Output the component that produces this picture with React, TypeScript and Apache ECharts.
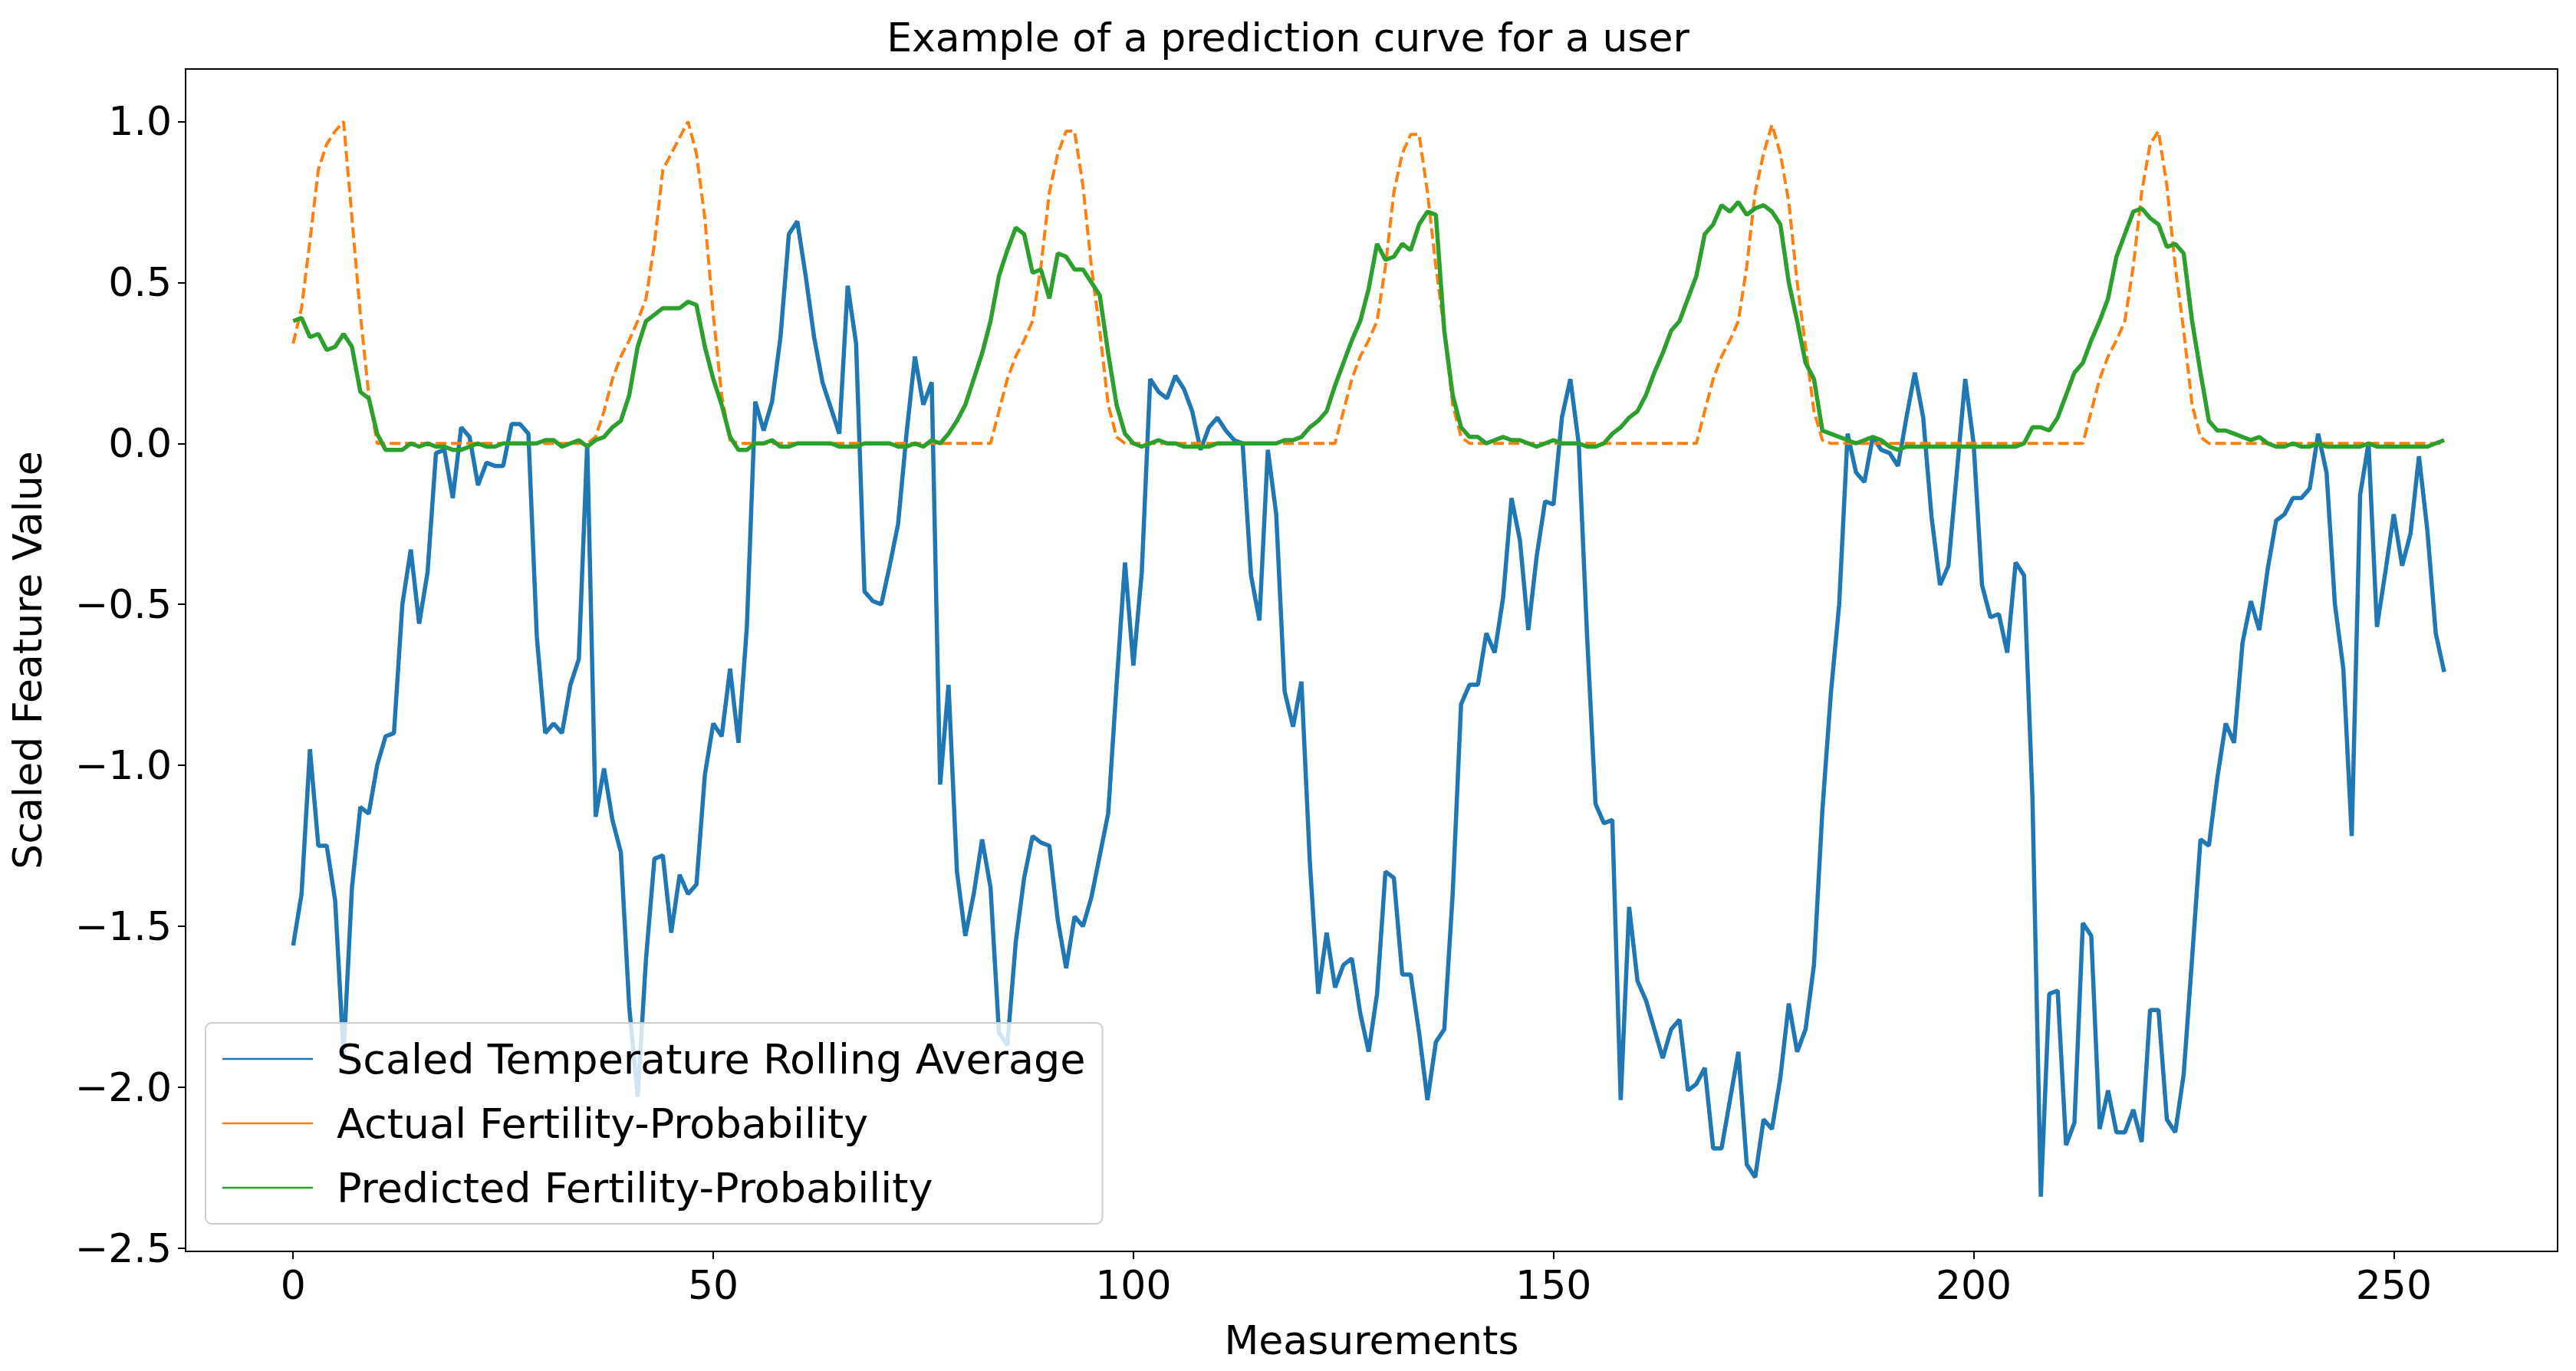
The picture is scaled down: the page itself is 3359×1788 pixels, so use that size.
import { useEffect, useRef } from 'react';
import * as echarts from 'echarts';

const temperature = [
  -1.56, -1.40, -0.95, -1.25, -1.25, -1.42, -1.90, -1.38, -1.13, -1.15,
  -1.00, -0.91, -0.90, -0.50, -0.33, -0.56, -0.40, -0.03, -0.02, -0.17,
  0.05, 0.02, -0.13, -0.06, -0.07, -0.07, 0.06, 0.06, 0.03, -0.60,
  -0.90, -0.87, -0.90, -0.75, -0.67, 0.00, -1.16, -1.01, -1.17, -1.27,
  -1.75, -2.03, -1.60, -1.29, -1.28, -1.52, -1.34, -1.40, -1.37, -1.03,
  -0.87, -0.91, -0.70, -0.93, -0.57, 0.13, 0.04, 0.13, 0.33, 0.65,
  0.69, 0.52, 0.33, 0.19, 0.11, 0.03, 0.49, 0.31, -0.46, -0.49,
  -0.50, -0.38, -0.25, 0.03, 0.27, 0.12, 0.19, -1.06, -0.75, -1.33,
  -1.53, -1.40, -1.23, -1.38, -1.83, -1.87, -1.55, -1.35, -1.22, -1.24,
  -1.25, -1.48, -1.63, -1.47, -1.50, -1.41, -1.28, -1.15, -0.75, -0.37,
  -0.69, -0.40, 0.20, 0.16, 0.14, 0.21, 0.17, 0.10, -0.02, 0.05,
  0.08, 0.04, 0.01, 0.00, -0.41, -0.55, -0.02, -0.22, -0.77, -0.88,
  -0.74, -1.30, -1.71, -1.52, -1.69, -1.62, -1.60, -1.77, -1.89, -1.71,
  -1.33, -1.35, -1.65, -1.65, -1.83, -2.04, -1.86, -1.82, -1.40, -0.81,
  -0.75, -0.75, -0.59, -0.65, -0.48, -0.17, -0.30, -0.58, -0.35, -0.18,
  -0.19, 0.08, 0.20, 0.00, -0.60, -1.12, -1.18, -1.17, -2.04, -1.44,
  -1.67, -1.73, -1.82, -1.91, -1.82, -1.79, -2.01, -1.99, -1.94, -2.19,
  -2.19, -2.04, -1.89, -2.24, -2.28, -2.10, -2.13, -1.97, -1.74, -1.89,
  -1.82, -1.62, -1.14, -0.78, -0.50, 0.03, -0.09, -0.12, 0.02, -0.02,
  -0.03, -0.07, 0.08, 0.22, 0.08, -0.23, -0.44, -0.38, -0.09, 0.20,
  0.00, -0.44, -0.54, -0.53, -0.65, -0.37, -0.41, -1.10, -2.34, -1.71,
  -1.70, -2.18, -2.11, -1.49, -1.53, -2.13, -2.01, -2.14, -2.14, -2.07,
  -2.17, -1.76, -1.76, -2.10, -2.14, -1.96, -1.60, -1.23, -1.25, -1.04,
  -0.87, -0.93, -0.62, -0.49, -0.58, -0.39, -0.24, -0.22, -0.17, -0.17,
  -0.14, 0.03, -0.09, -0.50, -0.70, -1.22, -0.16, 0.00, -0.57, -0.40,
  -0.22, -0.38, -0.28, -0.04, -0.27, -0.59, -0.71,
];

const actual = [
  0.31, 0.42, 0.63, 0.85, 0.93, 0.97, 1.00, 0.70, 0.40, 0.15,
  0.00, 0, 0, 0, 0, 0, 0, 0, 0, 0,
  0, 0, 0, 0, 0, 0, 0, 0, 0, 0,
  0, 0, 0, 0, 0, 0, 0.02, 0.10, 0.20, 0.27,
  0.32, 0.38, 0.45, 0.62, 0.85, 0.90, 0.95, 1.00, 0.90, 0.70,
  0.40, 0.15, 0.01, 0, 0, 0, 0, 0, 0, 0,
  0, 0, 0, 0, 0, 0, 0, 0, 0, 0,
  0, 0, 0, 0, 0, 0, 0, 0, 0, 0,
  0, 0, 0, 0, 0.10, 0.20, 0.27, 0.32, 0.38, 0.55,
  0.78, 0.90, 0.97, 0.97, 0.80, 0.55, 0.35, 0.12, 0.02, 0,
  0, 0, 0, 0, 0, 0, 0, 0, 0, 0,
  0, 0, 0, 0, 0, 0, 0, 0, 0, 0,
  0, 0, 0, 0, 0, 0.10, 0.20, 0.27, 0.32, 0.38,
  0.55, 0.78, 0.90, 0.96, 0.96, 0.78, 0.55, 0.35, 0.12, 0.02,
  0, 0, 0, 0, 0, 0, 0, 0, 0, 0,
  0, 0, 0, 0, 0, 0, 0, 0, 0, 0,
  0, 0, 0, 0, 0, 0, 0, 0, 0.10, 0.20,
  0.27, 0.32, 0.38, 0.55, 0.78, 0.90, 0.99, 0.90, 0.75, 0.50,
  0.30, 0.10, 0.01, 0, 0, 0, 0, 0, 0, 0,
  0, 0, 0, 0, 0, 0, 0, 0, 0, 0,
  0, 0, 0, 0, 0, 0, 0, 0, 0, 0,
  0, 0, 0, 0, 0.10, 0.20, 0.27, 0.32, 0.38, 0.55,
  0.78, 0.93, 0.97, 0.80, 0.55, 0.35, 0.12, 0.02, 0, 0,
  0, 0, 0, 0, 0, 0, 0, 0, 0, 0,
  0, 0, 0, 0, 0, 0, 0, 0, 0, 0,
  0, 0, 0, 0, 0, 0, 0,
];

const predicted = [
  0.38, 0.39, 0.33, 0.34, 0.29, 0.30, 0.34, 0.30, 0.16, 0.14,
  0.03, -0.02, -0.02, -0.02, 0.00, -0.01, 0.00, -0.01, -0.01, -0.02,
  -0.02, -0.01, 0.00, -0.01, -0.01, 0.00, 0.00, 0.00, 0.00, 0.00,
  0.01, 0.01, -0.01, 0.00, 0.01, -0.01, 0.01, 0.02, 0.05, 0.07,
  0.15, 0.30, 0.38, 0.40, 0.42, 0.42, 0.42, 0.44, 0.43, 0.30,
  0.20, 0.12, 0.02, -0.02, -0.02, 0.00, 0.00, 0.01, -0.01, -0.01,
  0.00, 0.00, 0.00, 0.00, 0.00, -0.01, -0.01, -0.01, 0.00, 0.00,
  0.00, 0.00, -0.01, -0.01, 0.00, -0.01, 0.01, 0.00, 0.03, 0.07,
  0.12, 0.20, 0.28, 0.38, 0.52, 0.60, 0.67, 0.65, 0.53, 0.54,
  0.45, 0.59, 0.58, 0.54, 0.54, 0.50, 0.46, 0.28, 0.12, 0.03,
  0.00, -0.01, 0.00, 0.01, 0.00, 0.00, -0.01, -0.01, -0.01, -0.01,
  0.00, 0.00, 0.00, 0.00, 0.00, 0.00, 0.00, 0.00, 0.01, 0.01,
  0.02, 0.05, 0.07, 0.10, 0.18, 0.25, 0.32, 0.38, 0.48, 0.62,
  0.57, 0.58, 0.62, 0.60, 0.68, 0.72, 0.71, 0.35, 0.15, 0.05,
  0.02, 0.02, 0.00, 0.01, 0.02, 0.01, 0.01, 0.00, -0.01, 0.00,
  0.01, 0.00, 0.00, 0.00, -0.01, -0.01, 0.00, 0.03, 0.05, 0.08,
  0.10, 0.15, 0.22, 0.28, 0.35, 0.38, 0.45, 0.52, 0.65, 0.68,
  0.74, 0.72, 0.75, 0.71, 0.73, 0.74, 0.72, 0.68, 0.50, 0.38,
  0.25, 0.20, 0.04, 0.03, 0.02, 0.01, 0.00, 0.01, 0.02, 0.01,
  -0.01, -0.02, -0.01, -0.01, -0.01, -0.01, -0.01, -0.01, -0.01, -0.01,
  -0.01, -0.01, -0.01, -0.01, -0.01, -0.01, 0.00, 0.05, 0.05, 0.04,
  0.08, 0.15, 0.22, 0.25, 0.32, 0.38, 0.45, 0.58, 0.65, 0.72,
  0.73, 0.70, 0.68, 0.61, 0.62, 0.59, 0.38, 0.22, 0.07, 0.04,
  0.04, 0.03, 0.02, 0.01, 0.02, 0.00, -0.01, -0.01, 0.00, -0.01,
  -0.01, 0.00, -0.01, -0.01, -0.01, -0.01, -0.01, 0.00, -0.01, -0.01,
  -0.01, -0.01, -0.01, -0.01, -0.01, 0.00, 0.01,
];

const xTicks = [0, 50, 100, 150, 200, 250];
const yTicks = [-2.5, -2.0, -1.5, -1.0, -0.5, 0.0, 0.5, 1.0];

const font = 'DejaVu Sans';

export default function App() {
  const chartRef = useRef<HTMLDivElement>(null);

  useEffect(() => {
    document.body.style.margin = '0';
    if (!chartRef.current) return;
    const chart = echarts.init(chartRef.current, undefined, { renderer: 'svg' });

    const pairs = (arr: number[]) => arr.map((v, i) => [i, v]);
    const lineSeries = (name: string, data: number[], color: string, dashed = false) => ({
      name,
      type: 'line',
      data: pairs(data),
      showSymbol: false,
      symbol: 'none',
      lineStyle: { color, width: dashed ? 4 : 5.5, type: dashed ? [14, 6] : 'solid' },
      itemStyle: { color },
    });

    chart.setOption({
      animation: false,
      backgroundColor: '#ffffff',
      title: {
        text: 'Example of a prediction curve for a user',
        left: 'center',
        top: 18,
        textStyle: { fontFamily: font, fontSize: 52, fontWeight: 'normal', color: '#000' },
      },
      grid: { left: 242, right: 24, top: 90, bottom: 156 },
      legend: {
        orient: 'vertical',
        left: 268,
        top: 1334,
        icon: 'path://M0,4 L100,4 L100,6 L0,6 Z',
        itemWidth: 118,
        itemHeight: 12,
        itemGap: 30,
        padding: [20, 22, 20, 22],
        backgroundColor: 'rgba(255,255,255,0.8)',
        borderColor: '#cccccc',
        borderWidth: 2,
        borderRadius: 8,
        textStyle: { fontFamily: font, fontSize: 54, color: '#000', padding: [0, 0, 0, 26] },
        data: [
          'Scaled Temperature Rolling Average',
          'Actual Fertility-Probability',
          'Predicted Fertility-Probability',
        ],
      },
      xAxis: {
        type: 'value',
        min: -12.8,
        max: 269.5,
        name: 'Measurements',
        nameLocation: 'middle',
        nameGap: 90,
        nameTextStyle: { fontFamily: font, fontSize: 52, color: '#000' },
        axisLine: { onZero: false, lineStyle: { color: '#000', width: 2 } },
        axisTick: { show: true, customValues: xTicks, length: 10, lineStyle: { color: '#000', width: 2 } },
        axisLabel: { customValues: xTicks, fontFamily: font, fontSize: 52, color: '#000', margin: 18 },
        splitLine: { show: false },
      },
      yAxis: {
        type: 'value',
        min: -2.51,
        max: 1.163,
        name: 'Scaled Feature Value',
        nameLocation: 'middle',
        nameGap: 180,
        nameTextStyle: { fontFamily: font, fontSize: 52, color: '#000' },
        axisLine: { show: true, onZero: false, lineStyle: { color: '#000', width: 2 } },
        axisTick: { show: true, customValues: yTicks, length: 10, lineStyle: { color: '#000', width: 2 } },
        axisLabel: {
          customValues: yTicks,
          fontFamily: font,
          fontSize: 52,
          color: '#000',
          margin: 18,
          formatter: (v: number) => (v < 0 ? '\u2212' + Math.abs(v).toFixed(1) : v.toFixed(1)),
        },
        splitLine: { show: false },
      },
      series: [
        lineSeries('Scaled Temperature Rolling Average', temperature, '#1f77b4'),
        lineSeries('Actual Fertility-Probability', actual, '#ff7f0e', true),
        lineSeries('Predicted Fertility-Probability', predicted, '#2ca02c'),
      ],
      graphic: [
        {
          type: 'rect',
          shape: { x: 242, y: 90, width: 3359 - 242 - 24, height: 1788 - 90 - 156 },
          style: { fill: 'none', stroke: '#000', lineWidth: 2 },
          silent: true,
        },
      ],
    });

    return () => chart.dispose();
  }, []);

  return <div ref={chartRef} style={{ width: 3359, height: 1788 }} />;
}
